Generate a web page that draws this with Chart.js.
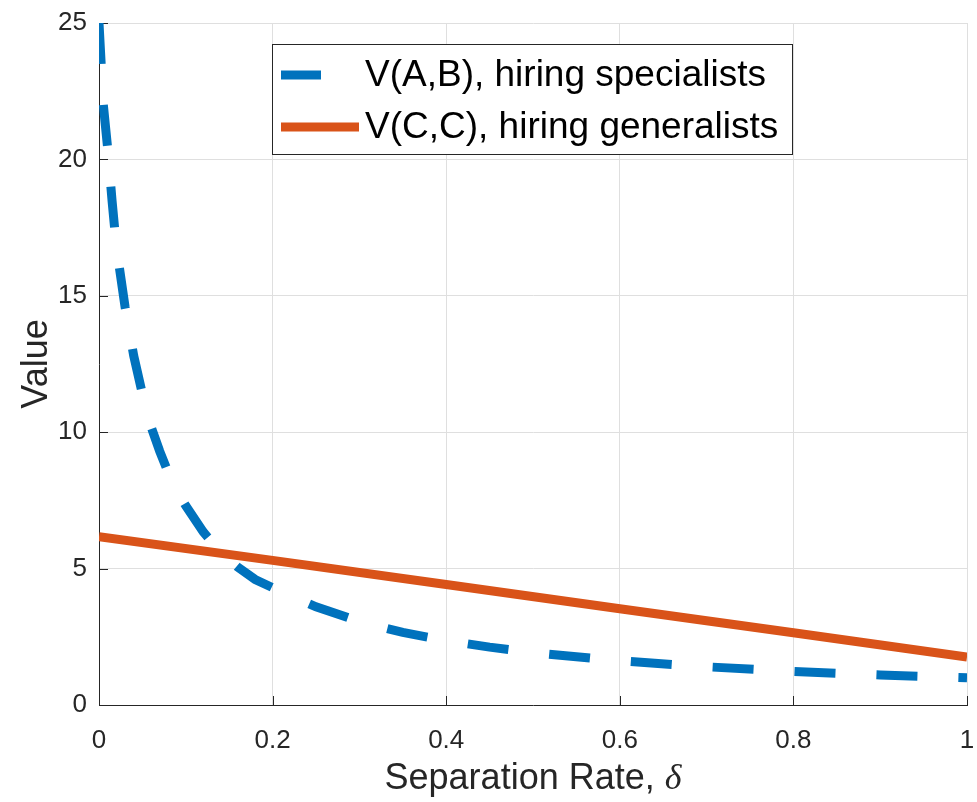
<!DOCTYPE html>
<html>
<head>
<meta charset="utf-8">
<script src="https://cdn.jsdelivr.net/npm/chart.js@4.4.1/dist/chart.umd.min.js"></script>
<style>
  html, body { margin: 0; padding: 0; background: #fff; }
</style>
</head>
<body>
<canvas id="chart" width="977" height="802"></canvas>
<script>
// separation rate values and the two value curves
var deltaSpec = [0, 0.005, 0.01, 0.015, 0.02, 0.03, 0.04, 0.05, 0.06, 0.07, 0.08, 0.09, 0.1,
                 0.12, 0.14, 0.16, 0.18, 0.2, 0.25, 0.3, 0.35, 0.4, 0.45, 0.5, 0.6, 0.7, 0.8, 0.9, 1];
var specialists = [25.0, 22.0, 20.4, 18.5, 16.8, 14.6, 12.8, 11.4, 10.2, 9.3, 8.5, 7.85, 7.3,
                   6.35, 5.6, 5.05, 4.6, 4.3, 3.6, 3.06, 2.66, 2.36, 2.12, 1.92, 1.62, 1.4, 1.23, 1.1, 1.0];
var deltaGen = [0, 0.2, 0.4, 0.6, 0.8, 1];
var generalists = [6.17, 5.3, 4.42, 3.53, 2.65, 1.76];

var xTicks = [0, 0.2, 0.4, 0.6, 0.8, 1];
var yTicks = [0, 5, 10, 15, 20, 25];
var seriesLabels = ['V(A,B), hiring specialists', 'V(C,C), hiring generalists'];
var xTitle = 'Separation Rate, ';
var xTitleSymbol = '\u03b4';
var yTitle = 'Value';

var blue = '#0072BD';
var orange = '#D95319';
var axisColor = '#262626';

function toPoints(xs, ys) {
    var pts = [];
    for (var i = 0; i < xs.length; i++) pts.push({ x: xs[i], y: ys[i] });
    return pts;
}

var matlabLook = {
    id: 'matlabLook',
    beforeDatasetsDraw: function (chart) {
        // inward tick marks like matlab
        var ctx = chart.ctx, a = chart.chartArea;
        var xs = chart.scales.x, ys = chart.scales.y;
        ctx.save();
        ctx.strokeStyle = axisColor;
        ctx.lineWidth = 1;
        ctx.beginPath();
        xTicks.forEach(function (v) {
            var px = Math.round(xs.getPixelForValue(v)) + 0.5;
            ctx.moveTo(px, a.bottom);
            ctx.lineTo(px, a.bottom - 9);
        });
        yTicks.forEach(function (v) {
            var py = Math.round(ys.getPixelForValue(v)) + 0.5;
            ctx.moveTo(a.left, py);
            ctx.lineTo(a.left + 9, py);
        });
        ctx.stroke();
        ctx.restore();
    },
    afterDraw: function (chart) {
        var ctx = chart.ctx, a = chart.chartArea;
        ctx.save();

        // legend box
        var bx = 272.5, by = 44.5, bw = 520, bh = 110;
        ctx.fillStyle = '#fff';
        ctx.fillRect(bx, by, bw, bh);
        ctx.strokeStyle = axisColor;
        ctx.lineWidth = 1;
        ctx.strokeRect(bx, by, bw, bh);

        ctx.lineCap = 'butt';
        ctx.lineWidth = 9;
        ctx.strokeStyle = blue;
        ctx.beginPath();
        ctx.moveTo(281, 75);
        ctx.lineTo(321, 75);
        ctx.stroke();
        ctx.strokeStyle = orange;
        ctx.beginPath();
        ctx.moveTo(281, 127);
        ctx.lineTo(359, 127);
        ctx.stroke();

        ctx.fillStyle = '#000';
        ctx.font = '37px "Liberation Sans", Arial, sans-serif';
        ctx.textBaseline = 'middle';
        ctx.textAlign = 'left';
        ctx.fillText(seriesLabels[0], 365, 76);
        ctx.fillText(seriesLabels[1], 365, 128);

        // x axis title with italic delta
        ctx.fillStyle = axisColor;
        ctx.font = '36px "Liberation Sans", Arial, sans-serif';
        var w1 = ctx.measureText(xTitle).width;
        ctx.font = 'italic 36px "Liberation Serif", "Times New Roman", serif';
        var w2 = ctx.measureText(xTitleSymbol).width;
        var x0 = (a.left + a.right) / 2 - (w1 + w2) / 2;
        ctx.textBaseline = 'alphabetic';
        ctx.font = '36px "Liberation Sans", Arial, sans-serif';
        ctx.fillText(xTitle, x0, 789);
        ctx.font = 'italic 36px "Liberation Serif", "Times New Roman", serif';
        ctx.fillText(xTitleSymbol, x0 + w1, 789);
        ctx.restore();
    }
};

var ctx = document.getElementById('chart').getContext('2d');
var chart = new Chart(ctx, {
    type: 'line',
    data: {
        datasets: [{
            label: seriesLabels[0],
            data: toPoints(deltaSpec, specialists),
            borderColor: blue,
            borderWidth: 9,
            borderDash: [41, 41],
            borderCapStyle: 'butt',
            pointRadius: 0,
            tension: 0,
            fill: false
        }, {
            label: seriesLabels[1],
            data: toPoints(deltaGen, generalists),
            borderColor: orange,
            borderWidth: 9,
            borderCapStyle: 'butt',
            pointRadius: 0,
            tension: 0,
            fill: false
        }]
    },
    options: {
        responsive: false,
        animation: false,
        devicePixelRatio: 1,
        layout: { padding: { top: 23, right: 10, left: 0, bottom: 0 } },
        plugins: {
            legend: { display: false },
            tooltip: { enabled: false }
        },
        scales: {
            x: {
                type: 'linear',
                min: 0,
                max: 1,
                afterBuildTicks: function (s) { s.ticks = xTicks.map(function (v) { return { value: v }; }); },
                afterFit: function (s) { s.height = 97; s.paddingLeft = 0; s.paddingRight = 0; },
                grid: { color: '#dfdfdf', lineWidth: 1, drawTicks: false },
                border: { color: axisColor, width: 1 },
                ticks: {
                    padding: 20,
                    color: axisColor,
                    font: { family: '"Liberation Sans", Arial, sans-serif', size: 26 },
                    callback: function (v) { return String(v); },
                    maxRotation: 0
                }
            },
            y: {
                type: 'linear',
                min: 0,
                max: 25,
                afterBuildTicks: function (s) { s.ticks = yTicks.map(function (v) { return { value: v }; }); },
                afterFit: function (s) { s.width = 99; s.paddingTop = 0; s.paddingBottom = 0; },
                grid: { color: '#dfdfdf', lineWidth: 1, drawTicks: false },
                border: { color: axisColor, width: 1 },
                title: {
                    display: true,
                    text: yTitle,
                    color: axisColor,
                    font: { family: '"Liberation Sans", Arial, sans-serif', size: 36 },
                    padding: { top: 15, bottom: 0 }
                },
                ticks: {
                    padding: 12,
                    color: axisColor,
                    font: { family: '"Liberation Sans", Arial, sans-serif', size: 26 },
                    callback: function (v) { return String(v); }
                }
            }
        }
    },
    plugins: [matlabLook]
});
</script>
</body>
</html>
